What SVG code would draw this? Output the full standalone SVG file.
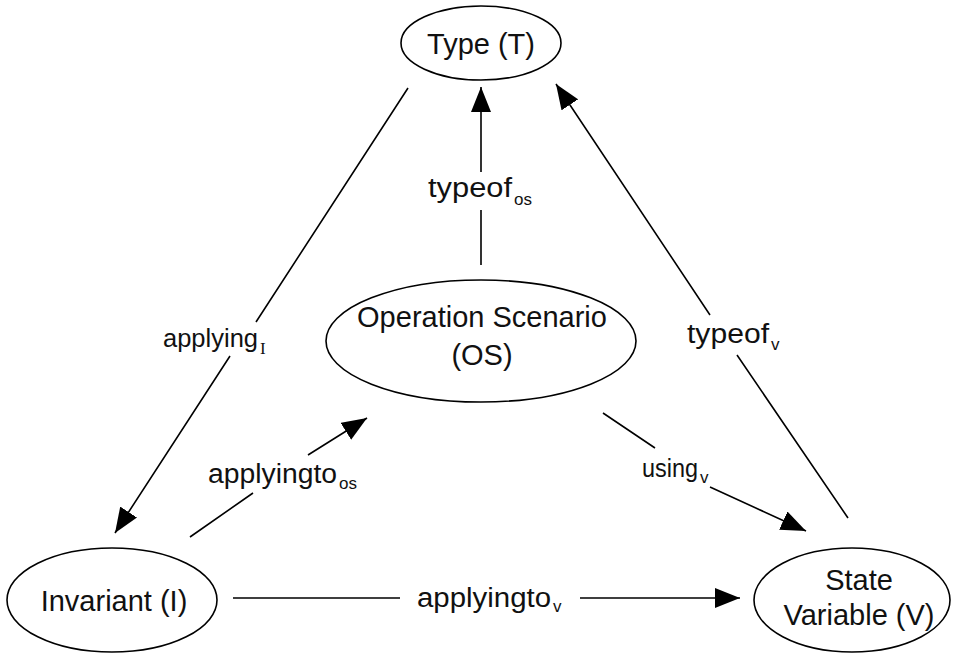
<svg xmlns="http://www.w3.org/2000/svg" width="955" height="655" viewBox="0 0 955 655">
<style>
.node ellipse{fill:#fff;stroke:#000;stroke-width:1.6}
.nt{font-family:"Liberation Sans",Arial,sans-serif;font-size:29px;fill:#111;text-anchor:middle}
.lb{font-family:"Liberation Sans",Arial,sans-serif;font-size:27px;fill:#111}
.sb{font-family:"Liberation Sans",Arial,sans-serif;font-size:17px}
.sbs{font-family:"Liberation Serif","Times New Roman",serif;font-size:17px}
.edge{fill:none;stroke:#000;stroke-width:1.6}
</style>
<defs>
<marker id="arr" markerUnits="userSpaceOnUse" markerWidth="26" markerHeight="20" refX="25" refY="10" orient="auto">
<path d="M0,0 L25,10 L0,20 z" fill="#000"/>
</marker>
</defs>
<rect width="955" height="655" fill="#fff"/>
<g id="connectors">
<path class="edge" d="M408,88 L256,322 M230,356 L115,533" marker-end="url(#arr)"/>
<path class="edge" d="M481,265 L481,210 M481,172 L481,87" marker-end="url(#arr)"/>
<path class="edge" d="M848,518 L737,355 M710,315 L556,84" marker-end="url(#arr)"/>
<path class="edge" d="M603,413 L655,448 M710,487 L806,531" marker-end="url(#arr)"/>
<path class="edge" d="M190,537 L253,493 M308,455 L367,418" marker-end="url(#arr)"/>
<path class="edge" d="M233,598 L400,598 M580,598 L740,598" marker-end="url(#arr)"/>
</g>
<g id="labels">
<text class="lb" x="163" y="347" style="font-size:26px"><tspan textLength="95" lengthAdjust="spacingAndGlyphs">applying</tspan><tspan class="sbs" dx="2" dy="7">I</tspan></text>
<text class="lb" x="428" y="197"><tspan textLength="84" lengthAdjust="spacingAndGlyphs">typeof</tspan><tspan class="sb" dx="2" dy="8">os</tspan></text>
<text class="lb" x="687" y="343"><tspan textLength="82" lengthAdjust="spacingAndGlyphs">typeof</tspan><tspan class="sb" dx="2" dy="7">v</tspan></text>
<text class="lb" x="208" y="483"><tspan textLength="129" lengthAdjust="spacingAndGlyphs">applyingto</tspan><tspan class="sb" dx="2" dy="6">os</tspan></text>
<text class="lb" x="417" y="607"><tspan textLength="134" lengthAdjust="spacingAndGlyphs">applyingto</tspan><tspan class="sb" dx="2" dy="5">v</tspan></text>
<text class="lb" x="642" y="477" style="font-size:25px"><tspan textLength="56" lengthAdjust="spacingAndGlyphs">using</tspan><tspan class="sb" dx="2" dy="6">v</tspan></text>
</g>
<g id="node-type" class="node">
<ellipse cx="481" cy="43" rx="80" ry="37"/>
<text class="nt" x="481" y="54">Type (T)</text>
</g>
<g id="node-os" class="node">
<ellipse cx="481" cy="341" rx="155" ry="61"/>
<text class="nt" x="482" y="327">Operation Scenario</text>
<text class="nt" x="482" y="365">(OS)</text>
</g>
<g id="node-invariant" class="node">
<ellipse cx="112" cy="600" rx="105" ry="52"/>
<text class="nt" x="114" y="611">Invariant (I)</text>
</g>
<g id="node-statevar" class="node">
<ellipse cx="852" cy="600" rx="98" ry="52"/>
<text class="nt" x="859" y="590">State</text>
<text class="nt" x="859" y="625">Variable (V)</text>
</g>
</svg>
